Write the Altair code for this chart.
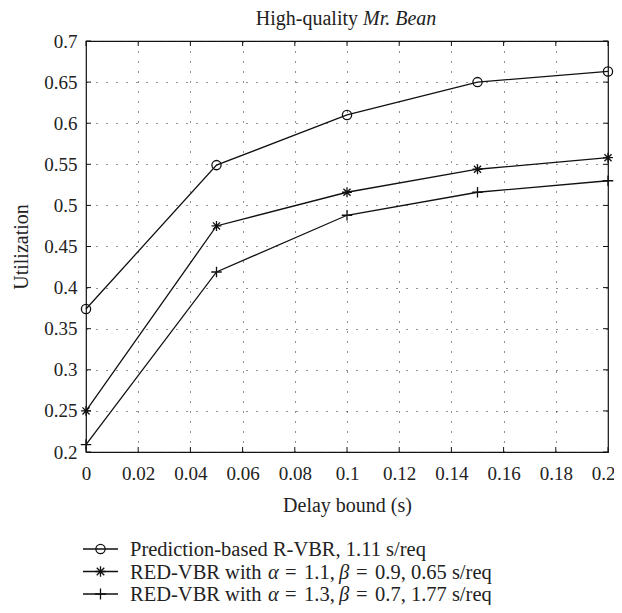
import altair as alt
import pandas as pd

# ---- data ----
delay = [0.0, 0.05, 0.10, 0.15, 0.20]
pred_rvbr = [0.374, 0.549, 0.610, 0.650, 0.663]
red_vbr_11 = [0.250, 0.475, 0.516, 0.544, 0.558]
red_vbr_13 = [0.209, 0.419, 0.488, 0.516, 0.530]

series_names = ["pred", "red11", "red13"]
x_ticks = [0, 0.02, 0.04, 0.06, 0.08, 0.1, 0.12, 0.14, 0.16, 0.18, 0.2]
y_ticks = [0.2, 0.25, 0.3, 0.35, 0.4, 0.45, 0.5, 0.55, 0.6, 0.65, 0.7]

title_plain = "High-quality"
title_italic = "Mr. Bean"
x_title = "Delay bound (s)"
y_title = "Utilization"
legend_first = "Prediction-based R-VBR, 1.11 s/req"
legend_params = [("1.1", "0.9", "0.65"), ("1.3", "0.7", "1.77")]

# ---- styling ----
FONT = "Liberation Serif"
W, H = 522, 411
CIRCLE = "circle"
ASTER = "M -1 0 L 1 0 M 0 -1 L 0 1 M -0.72 -0.72 L 0.72 0.72 M -0.72 0.72 L 0.72 -0.72"
PLUS = "M -1 0 L 1 0 M 0 -1 L 0 1"
shapes = [CIRCLE, ASTER, PLUS]
sizes = [85, 110, 120]

rows = []
for name, vals in zip(series_names, [pred_rvbr, red_vbr_11, red_vbr_13]):
    for d, v in zip(delay, vals):
        rows.append({"delay": d, "util": v, "series": name})
df = pd.DataFrame(rows)

xs = alt.Scale(domain=[0, 0.2], nice=False, zero=False)
ys = alt.Scale(domain=[0.2, 0.7], nice=False, zero=False)

base = alt.Chart(df).encode(
    x=alt.X("delay:Q", scale=xs,
            axis=alt.Axis(values=x_ticks, format="~g", title=x_title, ticks=False,
                          domain=False, labelPadding=12, titlePadding=12,
                          labelFlush=False, labelOverlap=False,
                          labelOffset={"condition": {"test": "datum.value >= 0.199", "value": -5},
                                       "value": 0})),
    y=alt.Y("util:Q", scale=ys,
            axis=alt.Axis(values=y_ticks, format="~g", title=y_title, ticks=False,
                          domain=False, labelPadding=9, titlePadding=12,
                          labelFlush=False, labelOverlap=False)),
)

lines = base.mark_line(color="#111", strokeWidth=1.3).encode(detail="series:N")

points = base.mark_point(filled=False, color="#111", strokeWidth=1.3, opacity=1).encode(
    shape=alt.Shape("series:N", scale=alt.Scale(domain=series_names, range=shapes), legend=None),
    size=alt.Size("series:N", scale=alt.Scale(domain=series_names, range=sizes), legend=None),
)

# inside ticks on all four sides
xt = pd.DataFrame({"t": x_ticks})
yt = pd.DataFrame({"t": y_ticks})
TL = 5
tick_layers = [
    alt.Chart(xt).mark_rule(color="#111", strokeWidth=1).encode(
        x=alt.X("t:Q", scale=xs), y=alt.value(H), y2=alt.value(H - TL)),
    alt.Chart(xt).mark_rule(color="#111", strokeWidth=1).encode(
        x=alt.X("t:Q", scale=xs), y=alt.value(0), y2=alt.value(TL)),
    alt.Chart(yt).mark_rule(color="#111", strokeWidth=1).encode(
        y=alt.Y("t:Q", scale=ys), x=alt.value(0), x2=alt.value(TL)),
    alt.Chart(yt).mark_rule(color="#111", strokeWidth=1).encode(
        y=alt.Y("t:Q", scale=ys), x=alt.value(W), x2=alt.value(W - TL)),
]

def text(s, x, y, size=20, style="normal", align="left", baseline="alphabetic"):
    return alt.Chart(pd.DataFrame({"s": [s]})).mark_text(
        font=FONT, fontSize=size, fontStyle=style, align=align, baseline=baseline,
        color="#222").encode(text="s:N", x=alt.value(x), y=alt.value(y))

title_layers = [
    text(title_plain, 272, -16, align="right"),
    text(title_italic, 277, -16, style="italic"),
]

# manual legend below the plot
leg_rows = [508, 530.5, 553]
BL = 7  # text baseline offset below the legend line
leg_layers = []
for i, ly in enumerate(leg_rows):
    leg_layers.append(
        alt.Chart(pd.DataFrame({"a": [0]})).mark_rule(color="#111", strokeWidth=1.3).encode(
            x=alt.value(-3), x2=alt.value(32), y=alt.value(ly)))
    leg_layers.append(
        alt.Chart(pd.DataFrame({"a": [0]})).mark_point(
            filled=False, color="#111", strokeWidth=1.3, opacity=1,
            shape=shapes[i], size=sizes[i]).encode(x=alt.value(14.5), y=alt.value(ly)))

LS = 20.5
leg_layers.append(text(legend_first, 44, leg_rows[0] + BL, size=LS))
for ly, (a_val, b_val, cost) in zip(leg_rows[1:], legend_params):
    yb = ly + BL
    leg_layers += [
        text("RED-VBR with", 44, yb, size=LS),
        text("\u03b1", 182, yb, size=LS, style="italic"),
        text("=", 199, yb, size=LS),
        text(f"{a_val},", 218, yb, size=LS),
        text("\u03b2", 253, yb, size=LS, style="italic"),
        text("=", 270, yb, size=LS),
        text(f"{b_val}, {cost} s/req", 289, yb, size=LS),
    ]

chart = alt.layer(lines, points, *tick_layers, *title_layers, *leg_layers).properties(
    width=W, height=H,
    autosize=alt.AutoSizeParams(type="none"),
    padding={"left": 78, "top": 33, "right": 6, "bottom": 153},
).configure_view(
    stroke="#111", strokeWidth=1.2
).configure_axis(
    labelFont=FONT, titleFont=FONT, labelFontSize=19, titleFontSize=20,
    titleFontWeight="normal", labelColor="#222", titleColor="#222",
    grid=True, gridColor="#222", gridDash=[1, 9], gridWidth=1, gridOpacity=1,
)

chart.save("out.html", embed_options={"renderer": "svg", "actions": False})
